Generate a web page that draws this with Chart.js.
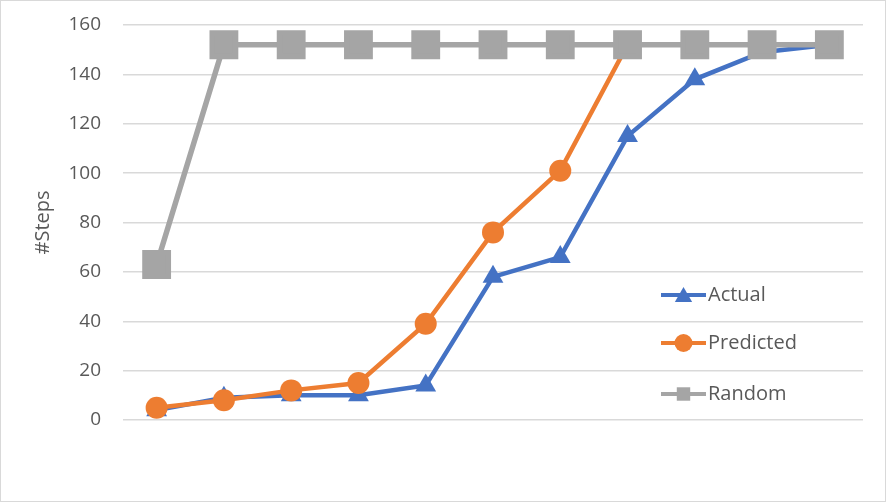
<!DOCTYPE html>
<html lang="en">
<head>
    <meta charset="UTF-8">
    <title>Steps chart</title>
    <script src="https://cdn.jsdelivr.net/npm/chart.js"></script>
    <style>
        body {
            margin: 0;
            background: #ffffff;
        }

        .chart-box {
            position: relative;
            width: 884px;
            height: 500px;
            border: 1px solid #d9d9d9;
        }
    </style>
</head>
<body>
    <div class="chart-box">
        <canvas id="stepsChart"></canvas>
    </div>

    <script>
        // values
        const categories = ['1', '2', '3', '4', '5', '6', '7', '8', '9', '10', '11'];
        const actual = [4, 9, 10, 10, 14, 58, 66, 115, 138, 149, 152];
        const predicted = [5, 8, 12, 15, 39, 76, 101, 152, 152, 152, 152];
        const random = [63, 152, 152, 152, 152, 152, 152, 152, 152, 152, 152];
        const yTicks = [0, 20, 40, 60, 80, 100, 120, 140, 160];

        const FONT = "'Open Sans', sans-serif";
        const TEXT = '#595959';

        // legend sits inside the plot, lower right
        const legendMarker = { triangle: 10, circle: 9, rect: 9.5 };
        const insideLegend = {
            id: 'insideLegend',
            afterDraw(chart) {
                const ctx = chart.ctx;
                const x0 = 660, rowY = [294, 342, 393];
                chart.data.datasets.forEach((ds, i) => {
                    const y = rowY[i];
                    ctx.save();
                    ctx.strokeStyle = ds.borderColor;
                    ctx.lineWidth = 4;
                    ctx.beginPath();
                    ctx.moveTo(x0, y);
                    ctx.lineTo(x0 + 45, y);
                    ctx.stroke();
                    ctx.fillStyle = ds.borderColor;
                    Chart.helpers.drawPoint(ctx, {
                        pointStyle: ds.pointStyle,
                        radius: legendMarker[ds.pointStyle],
                        borderWidth: 0
                    }, x0 + 22.5, ds.pointStyle === 'triangle' ? y + 2 : y);
                    ctx.fillStyle = TEXT;
                    ctx.font = '20px ' + FONT;
                    ctx.textBaseline = 'middle';
                    ctx.fillText(ds.label, x0 + 47, y);
                    ctx.restore();
                });
            }
        };

        const ctx = document.getElementById('stepsChart').getContext('2d');
        new Chart(ctx, {
            type: 'line',
            data: {
                labels: categories,
                datasets: [{
                    label: 'Actual',
                    data: actual,
                    borderColor: '#4472C4',
                    backgroundColor: '#4472C4',
                    pointStyle: 'triangle',
                    pointRadius: 12,
                    order: 3
                }, {
                    label: 'Predicted',
                    data: predicted,
                    borderColor: '#ED7D31',
                    backgroundColor: '#ED7D31',
                    pointStyle: 'circle',
                    pointRadius: 11,
                    order: 2
                }, {
                    label: 'Random',
                    data: random,
                    borderColor: '#A5A5A5',
                    backgroundColor: '#A5A5A5',
                    borderWidth: 5.5, // a touch wider so the orange line under it doesn't bleed
                    pointStyle: 'rect',
                    pointRadius: 16.5,
                    order: 1
                }]
            },
            options: {
                responsive: true,
                maintainAspectRatio: false,
                animation: false,
                elements: {
                    line: { borderWidth: 4.5, tension: 0 },
                    point: { borderWidth: 0, hoverRadius: 12 }
                },
                layout: {
                    padding: { top: 24, right: 22, bottom: 81, left: 0 }
                },
                scales: {
                    x: {
                        display: false,
                        offset: true
                    },
                    y: {
                        min: 0,
                        max: 160,
                        afterBuildTicks: scale => {
                            scale.ticks = yTicks.map(v => ({ value: v }));
                        },
                        afterFit: scale => {
                            scale.width = 122;
                            scale.paddingTop = 0;
                            scale.paddingBottom = 0;
                        },
                        border: { display: false },
                        grid: {
                            color: '#d9d9d9',
                            lineWidth: 1.5,
                            drawTicks: false
                        },
                        ticks: {
                            color: TEXT,
                            padding: 22,
                            font: { family: FONT, size: 19 }
                        },
                        title: {
                            display: true,
                            text: '#Steps',
                            color: TEXT,
                            padding: { top: 30, bottom: 0 },
                            font: { family: FONT, size: 20 }
                        }
                    }
                },
                plugins: {
                    legend: { display: false },
                    tooltip: { enabled: false }
                }
            },
            plugins: [insideLegend]
        });
    </script>
</body>
</html>
